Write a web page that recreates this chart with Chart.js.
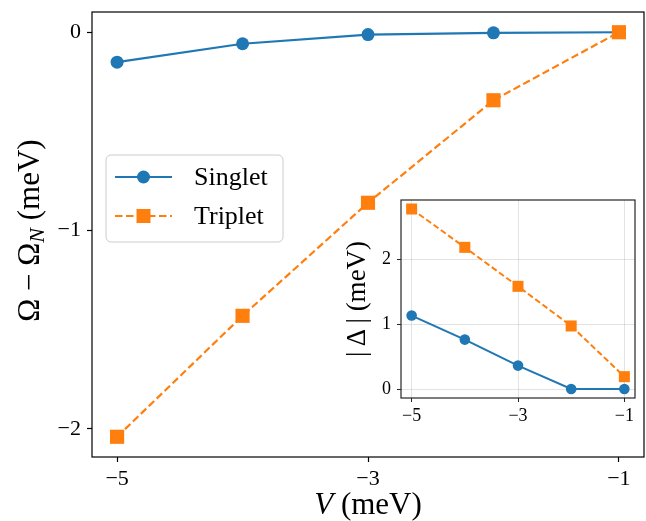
<!DOCTYPE html>
<html>
<head>
<meta charset="utf-8">
<script src="https://cdn.jsdelivr.net/npm/chart.js@4/dist/chart.umd.min.js"></script>
<style>
  body { margin: 0; background: #fff; }
  #wrap { position: relative; width: 646px; height: 521px; }
  #main { position: absolute; left: 0; top: 0; }
  #inset { position: absolute; left: 330px; top: 190px; }
</style>
</head>
<body>
<div id="wrap">
  <canvas id="main" width="646" height="521"></canvas>
  <canvas id="inset" width="316" height="250"></canvas>
</div>
<script>
// data
var vValues = [-5, -4, -3, -2, -1];
var singletOmega = [-0.151, -0.058, -0.012, -0.003, 0];
var tripletOmega = [-2.04, -1.43, -0.86, -0.343, 0];
var singletGap = [1.13, 0.76, 0.36, 0, 0];
var tripletGap = [2.77, 2.18, 1.58, 0.97, 0.19];
var vTicks = [-5, -3, -1];
var omegaTicks = [0, -1, -2];
var gapTicks = [0, 1, 2];

var BLUE = "#1f77b4";
var ORANGE = "#ff7f0e";
var SERIF = "'Liberation Serif', 'DejaVu Serif', serif";

function pts(ys) {
  return vValues.map(function (v, i) { return { x: v, y: ys[i] }; });
}
function fmt(v) {
  return v < 0 ? "\u2212" + Math.abs(v) : String(v);
}
function fixTicks(list) {
  return function (scale) {
    scale.ticks = list.map(function (v) { return { value: v }; });
  };
}
// force a scale's thickness and drop the label overhang padding
function fitSize(prop, size) {
  return function (s) {
    s[prop] = size;
    s.paddingTop = 0; s.paddingBottom = 0;
    s.paddingLeft = 0; s.paddingRight = 0;
  };
}
// padded range like matplotlib's 5% margins
function padRange(a, b) {
  var m = (b - a) * 0.05;
  return [a - m, b + m];
}

// draw a row of text pieces with different fonts, centred at x
function drawRuns(ctx, runs, x, y) {
  var total = 0;
  runs.forEach(function (r) { ctx.font = r.font; total += ctx.measureText(r.text).width; });
  var cx = x - total / 2;
  ctx.textAlign = "left";
  ctx.textBaseline = "alphabetic";
  runs.forEach(function (r) {
    ctx.font = r.font;
    ctx.fillText(r.text, cx, y + (r.dy || 0));
    cx += ctx.measureText(r.text).width;
  });
}

var xr = padRange(-5, -1);
var yr = padRange(Math.min.apply(null, tripletOmega), 0);

var mainDeco = {
  id: "mainDeco",
  beforeDraw: function (chart) {
    var ctx = chart.ctx;
    ctx.save();
    ctx.fillStyle = "#fff";
    ctx.fillRect(0, 0, chart.width, chart.height);
    ctx.restore();
  },
  afterDraw: function (chart) {
    var ctx = chart.ctx, a = chart.chartArea;
    ctx.save();
    ctx.strokeStyle = "#000";
    ctx.lineWidth = 1.2;
    ctx.strokeRect(a.left, a.top, a.right - a.left, a.bottom - a.top);

    ctx.fillStyle = "#000";
    // x axis title
    drawRuns(ctx, [
      { text: "V", font: "italic 31px " + SERIF },
      { text: " (meV)", font: "31px " + SERIF }
    ], (a.left + a.right) / 2, 514);
    // y axis title
    ctx.save();
    ctx.translate(39, (a.top + a.bottom) / 2 - 4);
    ctx.rotate(-Math.PI / 2);
    drawRuns(ctx, [
      { text: "\u03a9 \u2212 \u03a9", font: "31px " + SERIF },
      { text: "N", font: "italic 22px " + SERIF, dy: 5 },
      { text: " (meV)", font: "31px " + SERIF }
    ], 0, 0);
    ctx.restore();

    // legend
    var lx = a.left + 14, ly = a.top + 143, lw = 177, lh = 87;
    ctx.beginPath();
    ctx.roundRect(lx, ly, lw, lh, 5);
    ctx.fillStyle = "rgba(255,255,255,0.85)";
    ctx.fill();
    ctx.strokeStyle = "#cccccc";
    ctx.lineWidth = 1;
    ctx.stroke();

    var rows = [
      { label: "Singlet", color: BLUE, dash: [], marker: "circle" },
      { label: "Triplet", color: ORANGE, dash: [7.5, 3.5], marker: "square" }
    ];
    rows.forEach(function (r, i) {
      var y = ly + 22 + i * 39;
      ctx.strokeStyle = r.color;
      ctx.fillStyle = r.color;
      ctx.lineWidth = 2.2;
      ctx.setLineDash(r.dash);
      ctx.beginPath();
      ctx.moveTo(lx + 9, y);
      ctx.lineTo(lx + 66, y);
      ctx.stroke();
      ctx.setLineDash([]);
      ctx.beginPath();
      if (r.marker === "circle") {
        ctx.arc(lx + 37.5, y, 6.5, 0, Math.PI * 2);
      } else {
        ctx.rect(lx + 37.5 - 7, y - 7, 14, 14);
      }
      ctx.fill();
      ctx.fillStyle = "#000";
      ctx.font = "26px " + SERIF;
      ctx.textAlign = "left";
      ctx.textBaseline = "middle";
      ctx.fillText(r.label, lx + 88, y + 1);
    });
    ctx.restore();
  }
};

new Chart(document.getElementById("main").getContext("2d"), {
  type: "line",
  data: {
    datasets: [
      {
        label: "Triplet",
        data: pts(tripletOmega),
        borderColor: ORANGE,
        backgroundColor: ORANGE,
        borderWidth: 2.2,
        borderDash: [7.5, 3.5],
        pointStyle: "rect",
        pointRadius: 10,
        pointBorderWidth: 0,
        order: 0
      },
      {
        label: "Singlet",
        data: pts(singletOmega),
        borderColor: BLUE,
        backgroundColor: BLUE,
        borderWidth: 2.2,
        pointStyle: "circle",
        pointRadius: 6.5,
        pointBorderWidth: 0,
        order: 1
      }
    ]
  },
  options: {
    responsive: false,
    devicePixelRatio: 1,
    animation: false,
    layout: { autoPadding: false, padding: { top: 12, right: 2, left: 0, bottom: 0 } },
    plugins: { legend: { display: false }, tooltip: { enabled: false } },
    scales: {
      x: {
        type: "linear",
        min: xr[0],
        max: xr[1],
        afterBuildTicks: fixTicks(vTicks),
        afterFit: fitSize("height", 64),
        border: { display: false },
        grid: { drawOnChartArea: false, drawTicks: true, tickLength: 5, tickColor: "#000", tickWidth: 1.2 },
        ticks: { color: "#000", padding: 4, maxRotation: 0, font: { family: SERIF, size: 22 }, callback: fmt }
      },
      y: {
        type: "linear",
        min: yr[0],
        max: yr[1],
        afterBuildTicks: fixTicks(omegaTicks),
        afterFit: fitSize("width", 92),
        border: { display: false },
        grid: { drawOnChartArea: false, drawTicks: true, tickLength: 5, tickColor: "#000", tickWidth: 1.2 },
        ticks: { color: "#000", padding: 6, font: { family: SERIF, size: 22 }, callback: fmt }
      }
    }
  },
  plugins: [mainDeco]
});

var gr = padRange(0, Math.max.apply(null, tripletGap));

var insetDeco = {
  id: "insetDeco",
  beforeDraw: function (chart) {
    var ctx = chart.ctx, a = chart.chartArea;
    ctx.save();
    ctx.fillStyle = "#fff";
    ctx.fillRect(a.left, a.top, a.right - a.left, a.bottom - a.top);
    ctx.restore();
  },
  afterDraw: function (chart) {
    var ctx = chart.ctx, a = chart.chartArea;
    ctx.save();
    ctx.strokeStyle = "#262626";
    ctx.lineWidth = 1.2;
    ctx.strokeRect(a.left, a.top, a.right - a.left, a.bottom - a.top);
    ctx.fillStyle = "#000";
    ctx.translate(35, (a.top + a.bottom) / 2);
    ctx.rotate(-Math.PI / 2);
    drawRuns(ctx, [
      { text: "|\u2009\u0394\u2009|", font: "27px " + SERIF },
      { text: " (meV)", font: "27px " + SERIF }
    ], 0, 0);
    ctx.restore();
  }
};

new Chart(document.getElementById("inset").getContext("2d"), {
  type: "line",
  data: {
    datasets: [
      {
        label: "Triplet",
        data: pts(tripletGap),
        borderColor: ORANGE,
        backgroundColor: ORANGE,
        borderWidth: 2,
        borderDash: [6, 3],
        pointStyle: "rect",
        pointRadius: 7.8,
        pointBorderWidth: 0,
        order: 0
      },
      {
        label: "Singlet",
        data: pts(singletGap),
        borderColor: BLUE,
        backgroundColor: BLUE,
        borderWidth: 2,
        pointStyle: "circle",
        pointRadius: 5.3,
        pointBorderWidth: 0,
        order: 1
      }
    ]
  },
  options: {
    responsive: false,
    devicePixelRatio: 1,
    animation: false,
    layout: { autoPadding: false, padding: { top: 10, right: 11, left: 0, bottom: 0 } },
    plugins: { legend: { display: false }, tooltip: { enabled: false } },
    scales: {
      x: {
        type: "linear",
        min: xr[0],
        max: xr[1],
        afterBuildTicks: fixTicks(vTicks),
        afterFit: fitSize("height", 42),
        border: { display: false },
        grid: { color: "rgba(176,176,176,0.35)", drawTicks: true, tickLength: 4, tickColor: "#262626", tickWidth: 1 },
        ticks: { color: "#000", padding: 3, maxRotation: 0, font: { family: SERIF, size: 18 }, callback: fmt }
      },
      y: {
        type: "linear",
        min: gr[0],
        max: gr[1],
        afterBuildTicks: fixTicks(gapTicks),
        afterFit: fitSize("width", 71),
        border: { display: false },
        grid: { color: "rgba(176,176,176,0.35)", drawTicks: true, tickLength: 4, tickColor: "#262626", tickWidth: 1 },
        ticks: { color: "#000", padding: 6, font: { family: SERIF, size: 18 }, callback: fmt }
      }
    }
  },
  plugins: [insetDeco]
});
</script>
</body>
</html>
